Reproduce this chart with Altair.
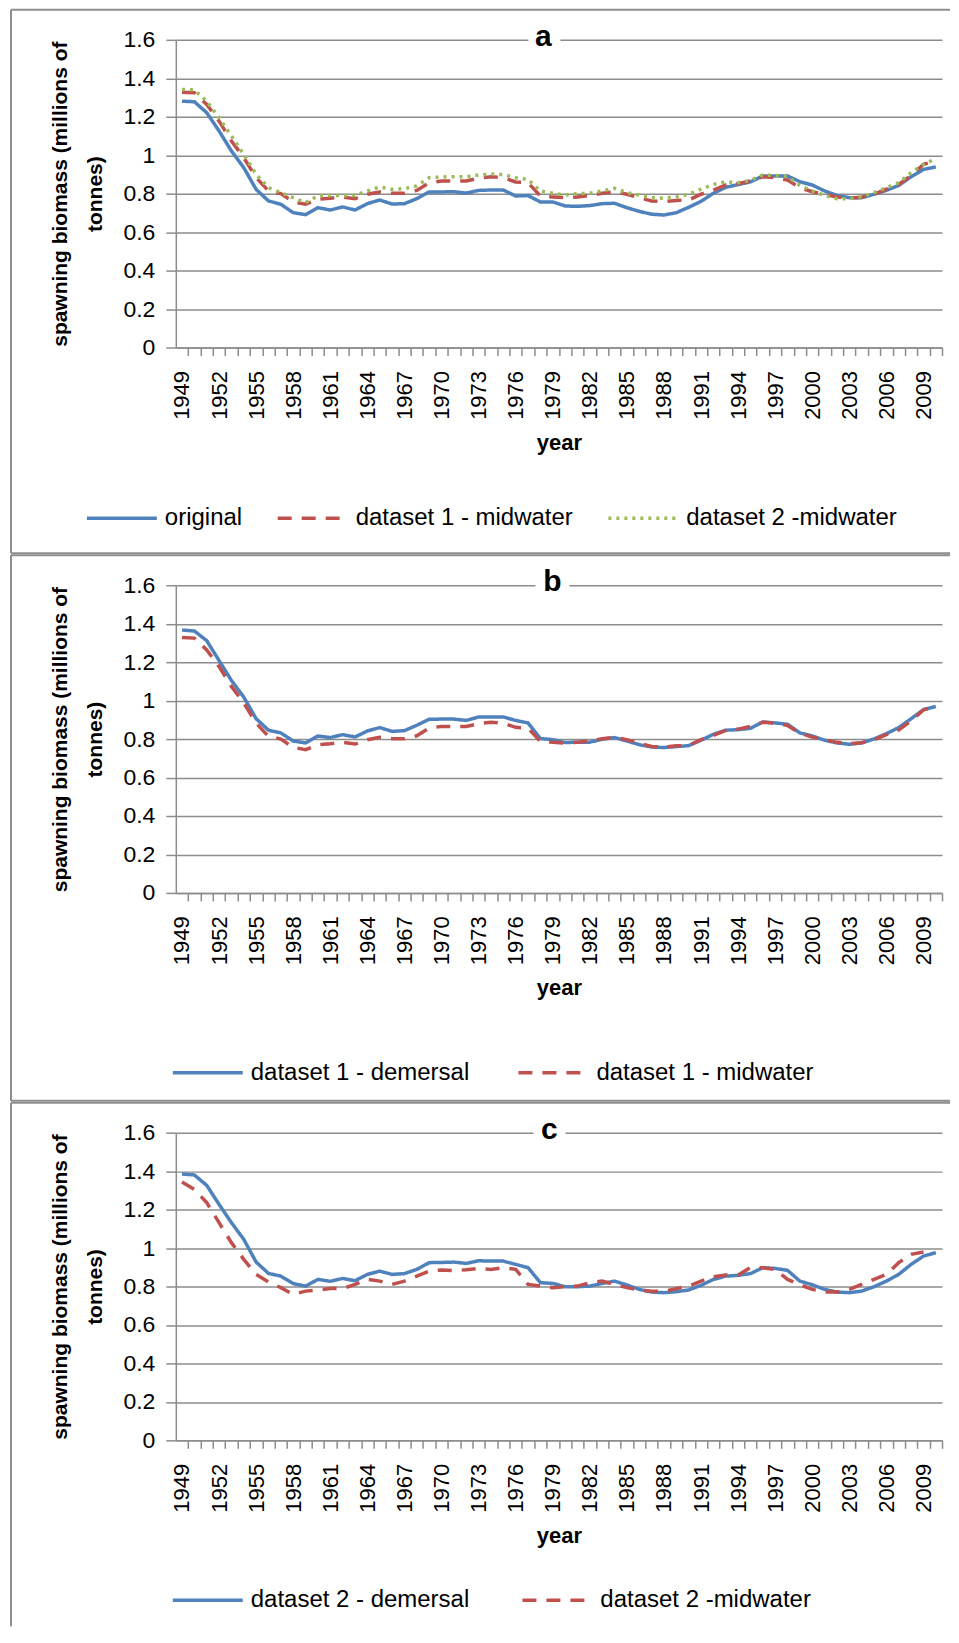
import altair as alt
import pandas as pd

years = list(range(1949, 2011))

# panel a
original = [1.281, 1.278, 1.221, 1.126, 1.022, 0.935, 0.822, 0.762, 0.745, 0.701,
            0.691, 0.727, 0.715, 0.731, 0.715, 0.748, 0.767, 0.746, 0.748, 0.774,
            0.809, 0.809, 0.810, 0.803, 0.817, 0.819, 0.819, 0.788, 0.790, 0.757,
            0.757, 0.736, 0.734, 0.738, 0.748, 0.750, 0.727, 0.708, 0.693, 0.689,
            0.701, 0.729, 0.760, 0.802, 0.833, 0.847, 0.861, 0.892, 0.892, 0.892,
            0.862, 0.845, 0.814, 0.791, 0.779, 0.779, 0.797, 0.817, 0.843, 0.888,
            0.926, 0.939]
d1_midwater = [1.328, 1.325, 1.264, 1.177, 1.074, 0.987, 0.883, 0.814, 0.800, 0.757,
               0.745, 0.771, 0.776, 0.783, 0.774, 0.797, 0.809, 0.802, 0.802, 0.817,
               0.857, 0.866, 0.866, 0.866, 0.880, 0.888, 0.883, 0.861, 0.857, 0.788,
               0.783, 0.779, 0.783, 0.791, 0.802, 0.809, 0.797, 0.779, 0.762, 0.758,
               0.765, 0.767, 0.797, 0.819, 0.845, 0.852, 0.866, 0.888, 0.883, 0.871,
               0.831, 0.810, 0.797, 0.783, 0.776, 0.781, 0.797, 0.823, 0.848, 0.895,
               0.952, 0.971]
d2_midwater_a = [1.342, 1.339, 1.281, 1.195, 1.100, 1.004, 0.900, 0.831, 0.805, 0.779,
                 0.753, 0.788, 0.791, 0.791, 0.791, 0.814, 0.835, 0.823, 0.826, 0.840,
                 0.883, 0.887, 0.888, 0.888, 0.897, 0.902, 0.899, 0.883, 0.874, 0.814,
                 0.802, 0.793, 0.800, 0.802, 0.814, 0.828, 0.805, 0.793, 0.779, 0.776,
                 0.783, 0.797, 0.823, 0.848, 0.861, 0.857, 0.869, 0.897, 0.895, 0.888,
                 0.843, 0.814, 0.791, 0.774, 0.774, 0.784, 0.805, 0.831, 0.857, 0.909,
                 0.952, 0.982]
# panel b
d1_demersal = [1.367, 1.362, 1.312, 1.208, 1.105, 1.018, 0.906, 0.846, 0.832, 0.790,
               0.780, 0.816, 0.808, 0.823, 0.811, 0.842, 0.860, 0.840, 0.844, 0.872,
               0.903, 0.904, 0.904, 0.897, 0.915, 0.915, 0.915, 0.897, 0.884, 0.803,
               0.797, 0.782, 0.784, 0.784, 0.799, 0.808, 0.790, 0.771, 0.759, 0.756,
               0.761, 0.766, 0.794, 0.825, 0.846, 0.849, 0.856, 0.889, 0.884, 0.877,
               0.832, 0.816, 0.794, 0.780, 0.773, 0.780, 0.801, 0.828, 0.860, 0.906,
               0.953, 0.970]
# panel c
d2_demersal = [1.385, 1.380, 1.326, 1.227, 1.132, 1.045, 0.927, 0.868, 0.854, 0.815,
               0.802, 0.837, 0.827, 0.842, 0.830, 0.863, 0.880, 0.863, 0.867, 0.889,
               0.924, 0.925, 0.927, 0.920, 0.934, 0.932, 0.932, 0.915, 0.898, 0.820,
               0.816, 0.799, 0.799, 0.802, 0.816, 0.828, 0.808, 0.785, 0.771, 0.768,
               0.773, 0.782, 0.806, 0.837, 0.854, 0.858, 0.867, 0.898, 0.894, 0.884,
               0.828, 0.809, 0.785, 0.771, 0.768, 0.776, 0.799, 0.828, 0.863, 0.915,
               0.958, 0.976]
d2_midwater_c = [1.343, 1.305, 1.236, 1.132, 1.028, 0.941, 0.863, 0.823, 0.794, 0.759,
                 0.776, 0.782, 0.789, 0.789, 0.811, 0.837, 0.828, 0.811, 0.828, 0.854,
                 0.880, 0.886, 0.882, 0.887, 0.894, 0.889, 0.898, 0.889, 0.811, 0.802,
                 0.794, 0.799, 0.802, 0.820, 0.828, 0.811, 0.794, 0.782, 0.775, 0.775,
                 0.789, 0.802, 0.828, 0.851, 0.860, 0.860, 0.898, 0.898, 0.889, 0.837,
                 0.809, 0.785, 0.771, 0.771, 0.785, 0.811, 0.837, 0.863, 0.924, 0.967,
                 0.979, None]

y_ticks = [0, 0.2, 0.4, 0.6, 0.8, 1, 1.2, 1.4, 1.6]
y_title = ["spawning biomass (millions of", "tonnes)"]

BLUE, RED, GREEN = "#4F81BD", "#C0504D", "#9BBB59"
GRID = "#8C8C8C"
FRAME = "#8E8E8E"
FONT = "Liberation Sans"
W, H = 767, 308
STEP = W / 62
SOLID, DASH, DOT = [1, 0], [14, 10], [3, 5]


def long_df(series):
    rows = []
    for name, vals in series:
        for yr, v in zip(years, vals):
            if v is not None:
                rows.append({"year": yr, "value": v, "series": name})
    return pd.DataFrame(rows)


def panel(series, colors, dashes, letter, gap, cx, legend_x, legend_y, col_pad,
          frame_bottom, closed):
    df = long_df(series)
    names = [s[0] for s in series]
    x = alt.X(
        "year:Q",
        scale=alt.Scale(domain=[1948.5, 2010.5], nice=False, zero=False),
        axis=alt.Axis(
            values=list(range(1948, 2011)), tickOffset=STEP / 2, labelOffset=-STEP / 2,
            format="d",
            labelExpr="datum.value >= 1949 && (datum.value - 1949) % 3 == 0 ? datum.label : ''",
            labelAngle=-90, labelOverlap=False, labelFlush=False, labelBound=False,
            tickSize=8, labelPadding=15, labelFontSize=22, grid=False,
            title="year", titleFontSize=22, titleFontWeight="bold", titlePadding=13,
        ),
    )
    y = alt.Y(
        "value:Q",
        scale=alt.Scale(domain=[0, 1.6], nice=False),
        axis=alt.Axis(
            values=y_ticks, format=".1~f", tickSize=10, labelPadding=11, labelFontSize=23,
            grid=True, title=y_title, titleFontSize=21, titleFontWeight="bold",
            titleLineHeight=35, titlePadding=17, titleLimit=1000,
        ),
    )
    leg = alt.Legend(
        title=None, orient="none", legendX=legend_x, legendY=legend_y, direction="horizontal",
        columns=len(names), columnPadding=col_pad, symbolType="stroke", symbolSize=4900,
        symbolStrokeWidth=3.5, labelFontSize=24, labelFont=FONT, labelColor="black",
        labelOffset=6, labelLimit=500, padding=0,
    )
    lines = alt.Chart(df).mark_line(strokeWidth=3.5).encode(
        x=x, y=y,
        color=alt.Color("series:N", scale=alt.Scale(domain=names, range=colors), legend=leg),
        strokeDash=alt.StrokeDash("series:N", scale=alt.Scale(domain=names, range=dashes), legend=leg),
    )
    one = alt.Data(values=[{}])
    frames = [
        alt.Chart(one).mark_rule(stroke=FRAME, strokeWidth=2).encode(
            x=alt.value(-165), x2=alt.value(W + 8), y=alt.value(-30)
        ),
        alt.Chart(one).mark_rule(stroke=FRAME, strokeWidth=2).encode(
            x=alt.value(-165), y=alt.value(-30), y2=alt.value(frame_bottom)
        ),
    ]
    if closed:
        frames.append(alt.Chart(one).mark_rule(stroke=FRAME, strokeWidth=2).encode(
            x=alt.value(-165), x2=alt.value(W + 8), y=alt.value(frame_bottom)
        ))
    halo = alt.Chart(one).mark_rect(fill="white").encode(
        x=alt.value(gap[0]), x2=alt.value(gap[1]), y=alt.value(-3), y2=alt.value(3)
    )
    txt = alt.Chart(one).mark_text(
        text=letter, font=FONT, fontSize=30, fontWeight="bold", align="center",
        baseline="alphabetic", color="black"
    ).encode(x=alt.value(cx), y=alt.value(6))
    return alt.layer(*frames, lines, halo, txt).properties(width=W, height=H)


pa = panel(
    [("original", original), ("dataset 1 - midwater", d1_midwater), ("dataset 2 -midwater", d2_midwater_a)],
    [BLUE, RED, GREEN], [SOLID, DASH, DOT], "a", (353, 385), 368, -91, 442, 28, 514, True,
)
pb = panel(
    [("dataset 1 - demersal", d1_demersal), ("dataset 1 - midwater", d1_midwater)],
    [BLUE, RED], [SOLID, DASH], "b", (360, 394), 377, -5, 451, 42, 516, True,
)
pc = panel(
    [("dataset 2 - demersal", d2_demersal), ("dataset 2 -midwater", d2_midwater_c)],
    [BLUE, RED], [SOLID, DASH], "c", (358, 390), 374, -5, 431, 46, 494, False,
)

chart = (
    alt.vconcat(pa, pb, pc, spacing=0)
    .resolve_scale(color="independent", strokeDash="independent")
    .resolve_legend(color="independent", strokeDash="independent")
    .properties(padding={"left": 2, "top": 0, "right": 0, "bottom": 0})
    .configure_view(stroke=None)
    .configure_axis(
        domainColor=GRID, tickColor=GRID, gridColor=GRID, domainWidth=1.5, tickWidth=1.5,
        gridWidth=1.5, labelFont=FONT, titleFont=FONT, labelColor="black", titleColor="black",
    )
)

chart.save("out.html", embed_options={"renderer": "svg", "actions": False})
